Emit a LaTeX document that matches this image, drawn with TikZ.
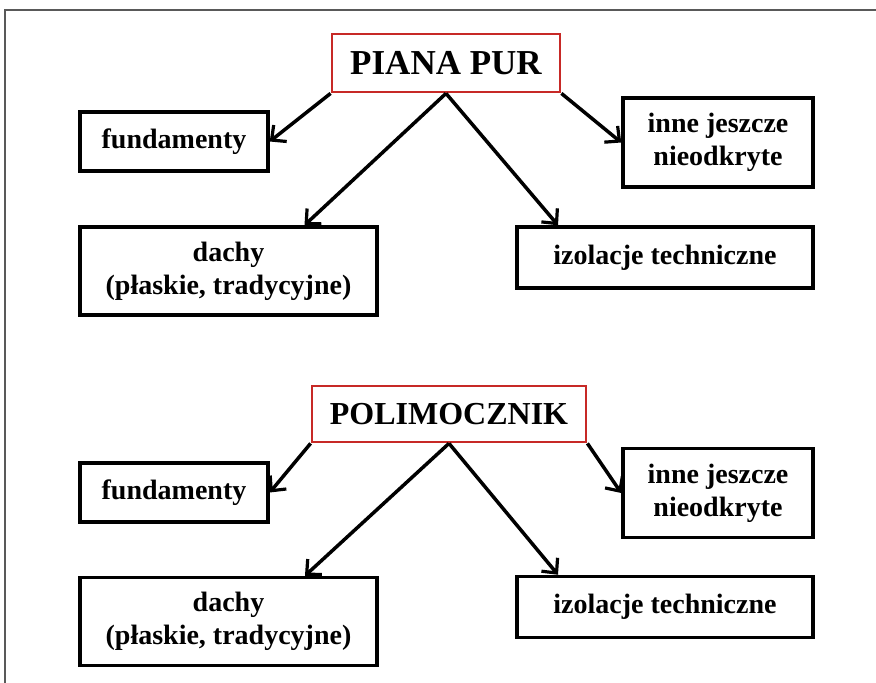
\documentclass[tikz,border=0pt]{standalone}
\usepackage{fontspec}
\setmainfont{Liberation Serif}
\usepackage{tikz}
\usetikzlibrary{arrows.meta}
\usetikzlibrary{positioning}
\tikzset{ar/.style = {line width = 3.5pt, -{Straight Barb[length=11pt, width=21pt, line width=3.2pt]}},
         item/.style = {draw, line width = 3.5pt, align = center, inner sep = 0pt,
                        font = \fontsize{28}{33}\selectfont\bfseries},
         head/.style = {draw = mred, line width = 2.8pt, align = center, inner sep = 0pt,
                        font = \fontsize{32}{36}\selectfont\bfseries}}
\definecolor{mred}{rgb}{0.78, 0.16, 0.15}
\definecolor{mgray}{rgb}{0.35, 0.35, 0.35}

\begin{document}
\begin{tikzpicture}[x = 1pt, y = -1pt]
      \useasboundingbox (0, 0) rectangle (876, 683);
      \draw [mgray, line width = 1.2pt] (5, 683) -- (5, 10) -- (876, 10);
      % upper tree
      \node [head, minimum width = 228pt, minimum height = 58pt,
             font = \fontsize{35}{38}\selectfont\bfseries] (pur) at (446, 63) {PIANA PUR};
      \node [item, minimum width = 188pt, minimum height = 59pt] (fund1) at (174, 141.5) {fundamenty};
      \node [item, minimum width = 190pt, minimum height = 89pt] (inne1) at (718, 142.5) {inne jeszcze\\nieodkryte};
      \node [item, minimum width = 297pt, minimum height = 88pt] (dachy1) at (228.5, 271) {dachy\\(płaskie, tradycyjne)};
      \node [item, minimum width = 296pt, minimum height = 61pt] (izol1) at (665, 257.5) {izolacje techniczne};
      \draw [ar] (pur.south west) -- (fund1.east);
      \draw [ar] (pur.south) -- ([xshift = 76pt] dachy1.north);
      \draw [ar] (pur.south) -- ([xshift = -107pt] izol1.north);
      \draw [ar] (pur.south east) -- (inne1.west);
      % lower tree
      \node [head, minimum width = 274pt, minimum height = 56pt] (pol) at (449, 414) {POLIMOCZNIK};
      \node [item, minimum width = 188pt, minimum height = 59pt] (fund2) at (174, 492.5) {fundamenty};
      \node [item, minimum width = 190pt, minimum height = 89pt] (inne2) at (718, 493) {inne jeszcze\\nieodkryte};
      \node [item, minimum width = 297pt, minimum height = 88pt] (dachy2) at (228.5, 621.5) {dachy\\(płaskie, tradycyjne)};
      \node [item, minimum width = 296pt, minimum height = 61pt] (izol2) at (665, 607) {izolacje techniczne};
      \draw [ar] (pol.south west) -- (fund2.east);
      \draw [ar] (pol.south) -- ([xshift = 76.5pt] dachy2.north);
      \draw [ar] (pol.south) -- ([xshift = -107pt] izol2.north);
      \draw [ar] (pol.south east) -- (inne2.west);
    \end{tikzpicture}
\end{document}
